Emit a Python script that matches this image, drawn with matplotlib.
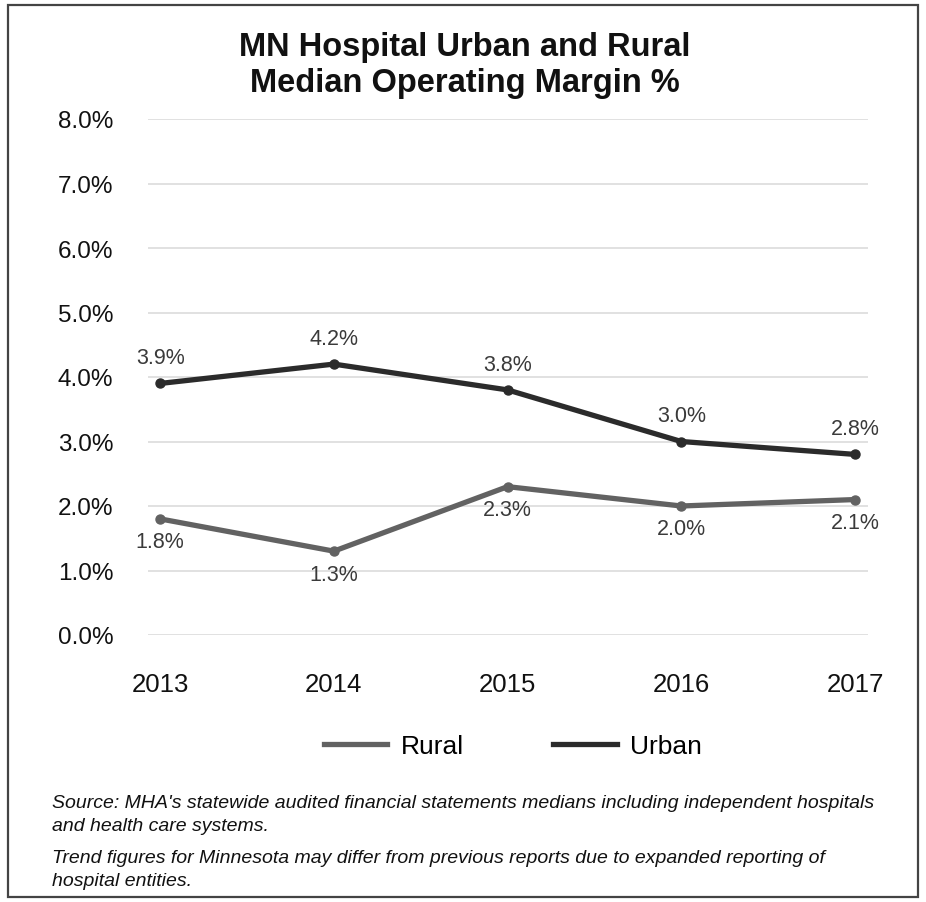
import matplotlib
matplotlib.use("Agg")
import matplotlib.pyplot as plt
from matplotlib.patches import Rectangle
from matplotlib.lines import Line2D

plt.rcParams['font.family'] = ['Liberation Sans', 'DejaVu Sans']

years = ["2013", "2014", "2015", "2016", "2017"]
rural = [1.8, 1.3, 2.3, 2.0, 2.1]
urban = [3.9, 4.2, 3.8, 3.0, 2.8]
y_ticks = [0, 1, 2, 3, 4, 5, 6, 7, 8]

title_lines = ["MN Hospital Urban and Rural", "Median Operating Margin %"]
note_lines = [
    "Source: MHA's statewide audited financial statements medians including independent hospitals",
    "and health care systems.",
    "Trend figures for Minnesota may differ from previous reports due to expanded reporting of",
    "hospital entities.",
]

rural_color = "#626262"
urban_color = "#2b2b2b"
label_color = "#3a3a3a"

W, H = 926, 903
fig = plt.figure(figsize=(W / 100, H / 100), dpi=100)
fig.patch.set_facecolor("white")


def fx(px):
    return px / W


def fy(py):
    return 1 - py / H


# outer frame
fig.patches.append(Rectangle((fx(8), fy(898)), (918 - 8) / W, (898 - 6) / H,
                             transform=fig.transFigure, fill=False,
                             edgecolor="#444444", linewidth=1.6))

ax = fig.add_axes([fx(148), fy(636), (868 - 148) / W, (636 - 120) / H])
x = list(range(len(years)))

ax.plot(x, rural, color=rural_color, linewidth=3.8, marker="o", markersize=6.5,
        solid_joinstyle="round", zorder=3)
ax.plot(x, urban, color=urban_color, linewidth=3.8, marker="o", markersize=6.5,
        solid_joinstyle="round", zorder=3)

ax.set_xlim(-0.07, 4.075)
ax.set_ylim(0, 8)
ax.set_yticks(y_ticks)
ax.set_yticklabels([f"{v:.1f}%" for v in y_ticks], fontsize=17.5, color="#111111")
ax.set_xticks(x)
ax.set_xticklabels(years, fontsize=18.5, color="#111111")
ax.tick_params(axis="y", length=0, pad=25)
ax.tick_params(axis="x", length=0, pad=27)
for s in ax.spines.values():
    s.set_visible(False)
ax.yaxis.grid(True, color="#d8d8d8", linewidth=1.1)
ax.set_axisbelow(True)

for i, v in enumerate(urban):
    ax.annotate(f"{v:.1f}%", (i, v), xytext=(0, 11), textcoords="offset points",
                ha="center", va="bottom", fontsize=15.5, color=label_color)
for i, v in enumerate(rural):
    ax.annotate(f"{v:.1f}%", (i, v), xytext=(0, -9), textcoords="offset points",
                ha="center", va="top", fontsize=15.5, color=label_color)

for line, base in zip(title_lines, [56, 92]):
    fig.text(fx(465), fy(base), line, ha="center", va="baseline", fontsize=23.5,
             fontweight="bold", color="#111111")

handles = [Line2D([], [], color=rural_color, linewidth=3.8),
           Line2D([], [], color=urban_color, linewidth=3.8)]
fig.legend(handles, ["Rural", "Urban"], loc="center", bbox_to_anchor=(fx(513), fy(747)),
           ncol=2, frameon=False, fontsize=19, handlelength=2.4, handletextpad=0.5,
           columnspacing=3.4, borderpad=0, borderaxespad=0)

for line, base in zip(note_lines, [808, 831, 863, 886]):
    fig.text(fx(52), fy(base), line, ha="left", va="baseline", fontsize=14,
             style="italic", color="#111111")

fig.savefig("out.png", dpi=100, facecolor="white")
